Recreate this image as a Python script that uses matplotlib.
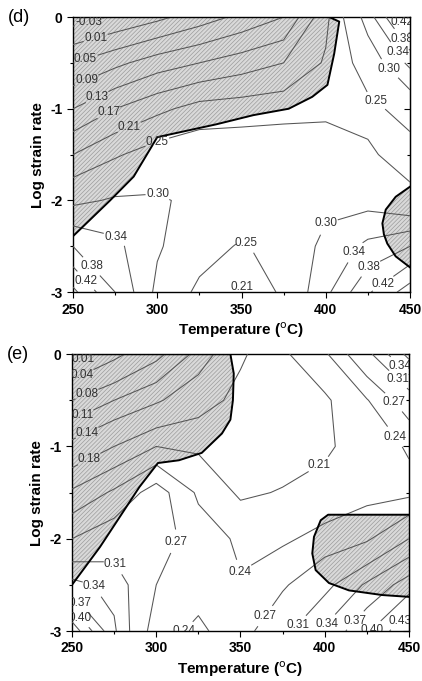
import matplotlib
matplotlib.use("Agg")
import matplotlib.pyplot as plt
from matplotlib.ticker import MultipleLocator
import numpy as np

plt.rcParams["font.family"] = ["Liberation Sans", "DejaVu Sans"]
plt.rcParams["hatch.linewidth"] = 0.5

# grid of efficiency values
temps = [250, 275, 300, 325, 350, 375, 400, 425, 450]
log_rates = [0.0, -0.5, -1.0, -1.5, -2.0, -2.5, -3.0]   # rows, top to bottom

eta_d = [
    [-0.05, -0.025, 0.00, 0.03, 0.06, 0.09, 0.20, 0.32, 0.46],
    [0.05, 0.08, 0.11, 0.13, 0.15, 0.17, 0.215, 0.27, 0.35],
    [0.13, 0.17, 0.20, 0.225, 0.23, 0.235, 0.24, 0.24, 0.265],
    [0.21, 0.245, 0.27, 0.28, 0.28, 0.28, 0.275, 0.255, 0.235],
    [0.29, 0.305, 0.305, 0.29, 0.28, 0.28, 0.29, 0.285, 0.26],
    [0.38, 0.35, 0.305, 0.27, 0.245, 0.27, 0.31, 0.35, 0.38],
    [0.47, 0.38, 0.29, 0.24, 0.205, 0.26, 0.33, 0.415, 0.48],
]
eta_e = [
    [-0.01, 0.03, 0.07, 0.12, 0.175, 0.205, 0.235, 0.30, 0.38],
    [0.08, 0.11, 0.135, 0.165, 0.19, 0.195, 0.205, 0.238, 0.29],
    [0.15, 0.18, 0.21, 0.205, 0.20, 0.195, 0.205, 0.225, 0.243],
    [0.215, 0.245, 0.285, 0.235, 0.205, 0.212, 0.22, 0.23, 0.232],
    [0.27, 0.29, 0.285, 0.255, 0.235, 0.235, 0.25, 0.265, 0.31],
    [0.35, 0.33, 0.27, 0.25, 0.242, 0.265, 0.30, 0.345, 0.385],
    [0.45, 0.345, 0.25, 0.235, 0.255, 0.30, 0.345, 0.395, 0.46],
]
levels_d = [-0.03, 0.01, 0.05, 0.09, 0.13, 0.17, 0.21, 0.25, 0.30, 0.34, 0.38, 0.42, 0.46]
levels_e = [0.01, 0.04, 0.08, 0.11, 0.14, 0.18, 0.21, 0.24, 0.27, 0.31, 0.34, 0.37, 0.40, 0.43]

# instability domains (temperature, log strain rate)
unstable_d1_T = [250, 402, 408, 405, 401, 392, 378, 357, 335, 300, 286, 272, 250]
unstable_d1_r = [0.0, 0.0, -0.05, -0.4, -0.74, -0.87, -1.0, -1.07, -1.17, -1.31, -1.74, -2.0, -2.39]
unstable_d2_T = [450, 441.5, 435.6, 433.6, 434.5, 436.5, 441.5, 450]
unstable_d2_r = [-1.85, -1.96, -2.10, -2.25, -2.37, -2.47, -2.61, -2.73]
unstable_e1_T = [250, 344, 346, 345.5, 344, 339, 327, 313.5, 301, 290, 278.5, 266.6, 250]
unstable_e1_r = [0.0, 0.0, -0.21, -0.5, -0.71, -0.86, -1.07, -1.15, -1.18, -1.44, -1.76, -2.09, -2.5]
unstable_e2_T = [450, 402, 397.6, 393.6, 392.6, 394.6, 402.5, 414.4, 434, 450]
unstable_e2_r = [-1.74, -1.74, -1.80, -1.98, -2.16, -2.34, -2.48, -2.56, -2.61, -2.63]

# where the contour labels sit: (level, temperature, log strain rate)
label_spots_d = [
    (-0.03, 260, -0.11), (0.01, 264, -0.26), (0.05, 258, -0.49), (0.09, 258, -0.68),
    (0.13, 264, -0.86), (0.17, 270, -1.0), (0.21, 282, -1.14), (0.25, 297, -1.22),
    (0.25, 422, -1.07), (0.30, 433, -0.65), (0.34, 440, -0.42), (0.38, 445, -0.24),
    (0.42, 444, -0.07), (0.30, 303, -1.83), (0.34, 278, -2.35), (0.38, 268, -2.6),
    (0.42, 262, -2.8), (0.25, 352, -2.48), (0.21, 350, -2.95), (0.30, 392, -2.17),
    (0.34, 418, -2.57), (0.38, 425, -2.7), (0.42, 433, -2.88),
]
label_spots_e = [
    (0.01, 258, -0.1), (0.04, 258, -0.3), (0.08, 262, -0.57), (0.11, 258, -0.73),
    (0.14, 262, -0.97), (0.18, 262, -1.2), (0.27, 314, -2.05), (0.31, 282, -2.2),
    (0.34, 266, -2.48), (0.37, 258, -2.65), (0.40, 258, -2.81), (0.24, 310, -2.95),
    (0.24, 348, -2.5), (0.21, 402, -1.36), (0.34, 442, -0.17), (0.31, 441, -0.32),
    (0.27, 439, -0.55), (0.24, 439, -0.93), (0.27, 364, -2.83), (0.31, 380, -2.87),
    (0.34, 397, -2.85), (0.37, 413, -2.8), (0.40, 426, -2.95), (0.43, 445, -2.9),
]

fig = plt.figure(figsize=(4.22, 6.81), dpi=100)
ax_d = fig.add_axes([0.173, 0.571, 0.7986, 0.404])
ax_e = fig.add_axes([0.1706, 0.0734, 0.7986, 0.4066])

panels = [
    (ax_d, eta_d, levels_d, label_spots_d,
     [(unstable_d1_T, unstable_d1_r), (unstable_d2_T, unstable_d2_r)], "(d)"),
    (ax_e, eta_e, levels_e, label_spots_e,
     [(unstable_e1_T, unstable_e1_r), (unstable_e2_T, unstable_e2_r)], "(e)"),
]

for ax, eta, levels, spots, regions, tag in panels:
    z = np.array(eta)[::-1]
    rr = np.array(log_rates)[::-1]
    for tx, ry in regions:
        ax.fill(tx, ry, facecolor="#d9d9d9", hatch="////////", edgecolor="#9c9c9c",
                linewidth=0, zorder=1)
        ax.plot(tx, ry, color="black", lw=1.4, zorder=4)
    # one contour set per level so each label lands on its own level
    for lev in levels:
        cs = ax.contour(temps, rr, z, levels=[lev], colors="#555555",
                        linewidths=0.75, zorder=3)
        pts = [(tx, ry) for lv, tx, ry in spots if abs(lv - lev) < 1e-9]
        if pts and len(cs.allsegs[0]) > 0:
            texts = ax.clabel(cs, fmt="%.2f", fontsize=8.5, inline=True,
                              inline_spacing=1, manual=pts, colors="#333333")
            for t in texts:
                t.set_rotation(0)

    ax.set_xlim(250, 450)
    ax.set_ylim(-3, 0)
    ax.xaxis.set_major_locator(MultipleLocator(50))
    ax.xaxis.set_minor_locator(MultipleLocator(25))
    ax.yaxis.set_minor_locator(MultipleLocator(0.5))
    ax.set_yticks([0, -1, -2, -3])
    ax.set_yticklabels(["0", "-1", "-2", "-3"])
    ax.tick_params(which="both", direction="out", labelsize=10, width=0.8)
    ax.tick_params(which="major", length=4)
    ax.tick_params(which="minor", length=2.5)
    right = ax.secondary_yaxis("right")
    right.set_yticks([0, -1, -2, -3])
    right.yaxis.set_minor_locator(MultipleLocator(0.5))
    right.tick_params(which="both", direction="in", labelright=False, width=0.8)
    right.tick_params(which="major", length=4)
    right.tick_params(which="minor", length=2.5)
    for lab in ax.get_xticklabels() + ax.get_yticklabels():
        lab.set_fontweight("bold")
    for s in ax.spines.values():
        s.set_linewidth(1.0)
    ax.set_xlabel("Temperature ($^{\\rm o}$C)", fontsize=11, fontweight="bold", labelpad=3)
    ax.set_ylabel("Log strain rate", fontsize=11, fontweight="bold", labelpad=4)
    ax.text(-0.193, 1.0, tag, transform=ax.transAxes, fontsize=13, va="center", ha="left")

fig.savefig("out.png", dpi=100)
